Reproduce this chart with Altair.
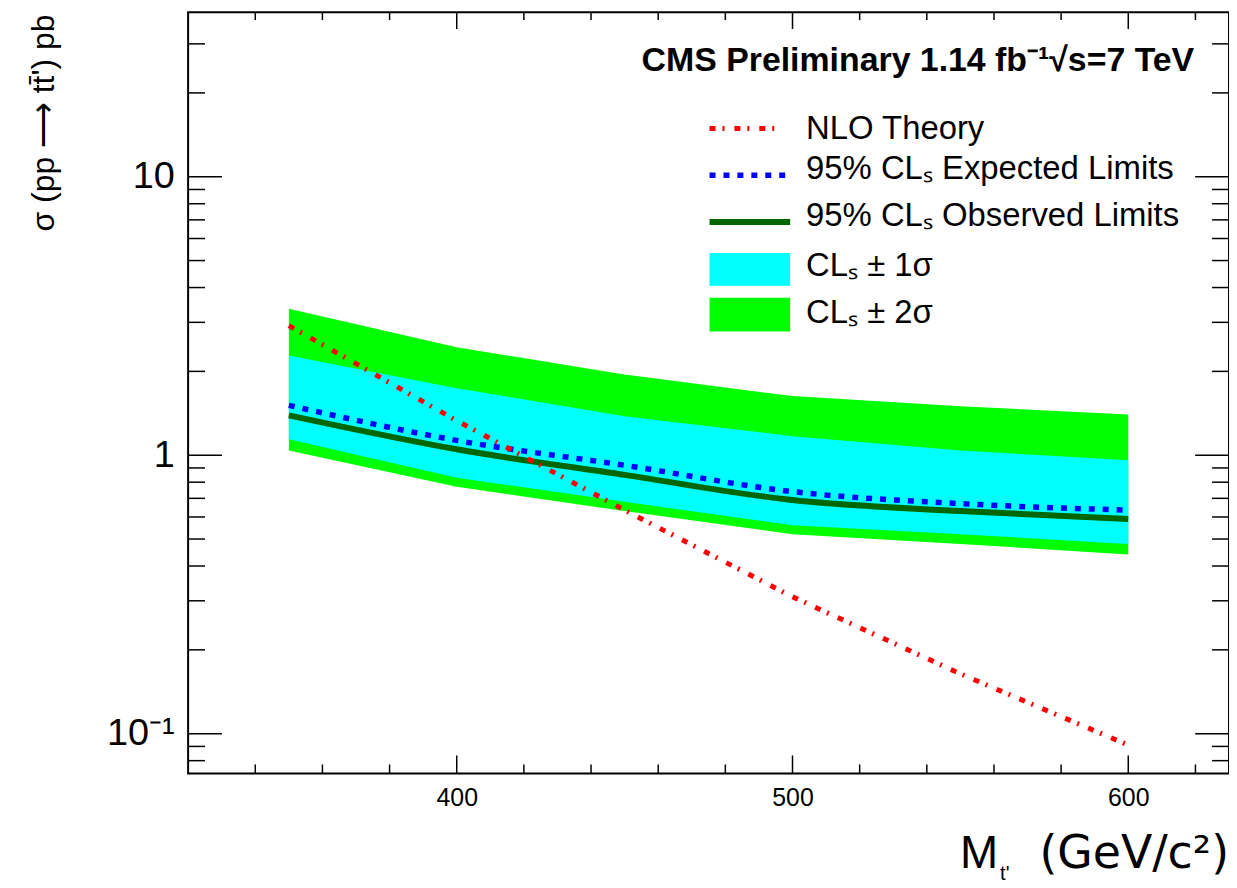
import altair as alt
import pandas as pd

# ---- data ----
mass = [350, 400, 450, 500, 550, 600]
theory = [2.92, 1.33, 0.635, 0.31, 0.164, 0.091]
expected = [1.51, 1.13, 0.92, 0.74, 0.67, 0.635]
observed = [1.39, 1.05, 0.85, 0.69, 0.63, 0.59]
minus1 = [1.14, 0.83, 0.68, 0.56, 0.52, 0.48]
plus1 = [2.28, 1.74, 1.38, 1.17, 1.04, 0.96]
minus2 = [1.04, 0.77, 0.63, 0.52, 0.48, 0.44]
plus2 = [3.36, 2.44, 1.95, 1.63, 1.50, 1.40]

x_major = [400, 500, 600]
x_minor = [340, 360, 380, 420, 440, 460, 480, 520, 540, 560, 580, 620]
y_major = [0.1, 1, 10]
y_minor = [0.08, 0.09, 0.2, 0.3, 0.4, 0.5, 0.6, 0.7, 0.8, 0.9,
           2, 3, 4, 5, 6, 7, 8, 9, 20, 30]

legend_labels = ["NLO Theory", "95% CLₛ Expected Limits", "95% CLₛ Observed Limits",
                 "CLₛ ± 1σ", "CLₛ ± 2σ"]

W, H = 1046, 765
FONT = "Liberation Sans"

df = pd.DataFrame({"mass": mass, "theory": theory, "expected": expected,
                   "observed": observed, "m1": minus1, "p1": plus1,
                   "m2": minus2, "p2": plus2})

xscale = alt.Scale(domain=[320, 630], nice=False, zero=False)
yscale = alt.Scale(type="log", domain=[0.072, 39], nice=False)

xaxis = alt.Axis(values=x_major, ticks=False, tickSize=0, domain=False, grid=False,
                 labelFontSize=25, labelFont=FONT, labelPadding=12, labelColor="black",
                 title=None)
yaxis = alt.Axis(values=y_major, ticks=False, tickSize=0, domain=False, grid=False,
                 labelFontSize=38, labelFont=FONT, labelPadding=14, labelColor="black",
                 labelExpr="datum.value == 0.1 ? '10⁻¹' : datum.value == 1 ? '1' : datum.value == 10 ? '10' : ''",
                 title="σ (pp ⟶ tt̄') pb", titleFont=FONT, titleFontSize=32,
                 titleFontWeight="normal", titleColor="black", titleAngle=270,
                 titleAlign="right", titleBaseline="middle", titleX=-145, titleY=2)

X = lambda f: alt.X(f, type="quantitative", scale=xscale, axis=xaxis)
Y = lambda f: alt.Y(f, type="quantitative", scale=yscale, axis=yaxis)

base = alt.Chart(df)
band2 = base.mark_area(color="#00ff00", opacity=1).encode(x=X("mass"), y=Y("m2"), y2="p2")
band1 = base.mark_area(color="#00ffff", opacity=1).encode(x=X("mass"), y=Y("m1"), y2="p1")
obs = base.mark_line(color="#006600", strokeWidth=6, interpolate="monotone").encode(
    x=X("mass"), y=Y("observed"))
exp = base.mark_line(color="#0000ff", strokeWidth=5.5, strokeDash=[6, 8],
                     interpolate="monotone").encode(x=X("mass"), y=Y("expected"))
theo = base.mark_line(color="#ff0000", strokeWidth=5, strokeDash=[6, 7, 2, 10]).encode(
    x=X("mass"), y=Y("theory"))

# ---- ticks on all four sides (inward) ----
def yticks(vals, length):
    d = alt.Chart(pd.DataFrame({"v": vals}))
    left = d.mark_rule(color="black", strokeWidth=1.5).encode(
        y=Y("v"), x=alt.value(0), x2=alt.value(length))
    right = d.mark_rule(color="black", strokeWidth=1.5).encode(
        y=Y("v"), x=alt.value(W - length), x2=alt.value(W))
    return left + right

def xticks(vals, lb, lt):
    d = alt.Chart(pd.DataFrame({"v": vals}))
    bottom = d.mark_rule(color="black", strokeWidth=1.5).encode(
        x=X("v"), y=alt.value(H - lb), y2=alt.value(H))
    top = d.mark_rule(color="black", strokeWidth=1.5).encode(
        x=X("v"), y=alt.value(0), y2=alt.value(lt))
    return bottom + top

ticks = yticks(y_major, 34) + yticks(y_minor, 17) + xticks(x_major, 18, 17) + xticks(x_minor, 9, 8)

# ---- texts ----
def txt(s, x, y, size, align="left", baseline="middle", weight="normal", font=FONT):
    return alt.Chart(pd.DataFrame({"t": [s]})).mark_text(
        font=font, fontSize=size, align=align, baseline=baseline, fontWeight=weight,
        color="black").encode(text="t:N", x=alt.value(x), y=alt.value(y))

cms = txt("CMS Preliminary 1.14 fb⁻¹√s=7 TeV", 1011, 49, 34, align="right", weight="bold")
xt1 = txt("M", 814, 860, 46, align="right", baseline="alphabetic")
xt2 = txt("t'", 816, 872, 20, align="left", baseline="alphabetic")
xt3 = txt("(GeV/c²)", W, 860, 46, align="right", baseline="alphabetic", font="DejaVu Sans")

# ---- legend ----
LX0, LX1, TX = 524, 601, 621
one = pd.DataFrame({"a": [0]})
leg_theo = alt.Chart(one).mark_rule(
    color="#ff0000", strokeWidth=5, strokeDash=[6, 7, 2, 10]).encode(
    x=alt.value(LX0), x2=alt.value(LX1 - 12), y=alt.value(117))
leg_exp = alt.Chart(one).mark_rule(
    color="#0000ff", strokeWidth=5.5, strokeDash=[6, 8]).encode(
    x=alt.value(LX0), x2=alt.value(LX1), y=alt.value(164))
leg_obs = alt.Chart(one).mark_rule(
    color="#006600", strokeWidth=6).encode(
    x=alt.value(LX0), x2=alt.value(LX1 + 4), y=alt.value(211))
leg_b1 = alt.Chart(one).mark_rect(color="#00ffff").encode(
    x=alt.value(LX0), x2=alt.value(LX1 + 4), y=alt.value(242), y2=alt.value(275))
leg_b2 = alt.Chart(one).mark_rect(color="#00ff00").encode(
    x=alt.value(LX0), x2=alt.value(LX1 + 4), y=alt.value(287), y2=alt.value(321))
leg_y = [117, 158, 205, 255, 302]
leg_txt = None
for lab, yy in zip(legend_labels, leg_y):
    t = txt(lab, TX, yy, 33)
    leg_txt = t if leg_txt is None else leg_txt + t

chart = alt.layer(
    band2, band1, obs, exp, theo, ticks,
    cms, xt1, xt2, xt3,
    leg_theo, leg_exp, leg_obs, leg_b1, leg_b2, leg_txt,
).properties(
    width=W, height=H,
    autosize=alt.AutoSizeParams(type="none"),
    padding={"left": 181, "top": 2, "right": 0, "bottom": 112},
).configure(
    background="white",
    view=alt.ViewConfig(stroke="black", strokeWidth=2),
)

chart.save("out.html", embed_options={"renderer": "svg", "actions": False})
